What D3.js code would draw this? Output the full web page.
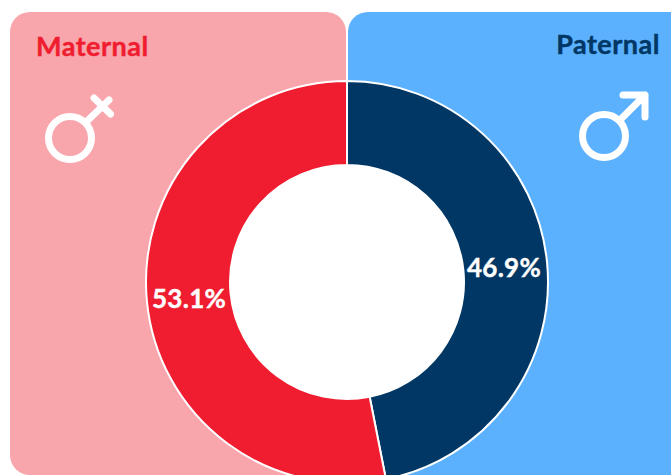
<!DOCTYPE html>
<html><head><meta charset="utf-8">
<script src="https://cdn.jsdelivr.net/npm/d3@7/dist/d3.min.js"></script>
<style>html,body{margin:0;padding:0;background:#fff;overflow:hidden}svg{display:block}text{font-family:Lato,"Open Sans",sans-serif;font-weight:700}</style>
</head><body><div id="c"></div>
<script>
const categories = ["Paternal", "Maternal"];
const values = [46.9, 53.1];
const labels = ["46.9%", "53.1%"];
const colors = ["#003764", "#EF1D2F"];
const W = 671, H = 475, cx = 347, cy = 282, R = 201, r = 117;
const svg = d3.select("#c").append("svg").attr("width", W).attr("height", H);
function panel(x0, x1, y0, y1, rad, fill){
  const p = d3.path();
  p.moveTo(x0 + rad, y0); p.lineTo(x1 - rad, y0);
  p.arcTo(x1, y0, x1, y0 + rad, rad); p.lineTo(x1, y1 - rad);
  p.arcTo(x1, y1, x1 - rad, y1, rad); p.lineTo(x0 + rad, y1);
  p.arcTo(x0, y1, x0, y1 - rad, rad); p.lineTo(x0, y0 + rad);
  p.arcTo(x0, y0, x0 + rad, y0, rad); p.closePath();
  svg.append("path").attr("d", p.toString()).attr("fill", fill);
}
panel(10, 346, 12, 475, 20, "#F8A5AC");
panel(348, 700, 12, 475, 20, "#5CB1FF");
svg.append("text").attr("x", 36).attr("y", 56).attr("font-size", 27).attr("letter-spacing", 0.5).attr("fill", "#EF1D2F").attr("stroke", "#EF1D2F").attr("stroke-width", 0.4).text(categories[1]);
svg.append("text").attr("x", 660).attr("y", 54).attr("text-anchor", "end").attr("font-size", 27).attr("letter-spacing", 0.5).attr("fill", "#003764").attr("stroke", "#003764").attr("stroke-width", 0.4).text(categories[0]);
const sym = svg.append("g").attr("fill", "none").attr("stroke", "#fff").attr("stroke-width", 7).attr("stroke-linecap", "round").attr("stroke-linejoin", "round");
sym.append("circle").attr("cx", 70).attr("cy", 138).attr("r", 21.5);
sym.append("path").attr("d", "M86 122L109 100M94 98L110.500 114");
sym.append("circle").attr("cx", 604).attr("cy", 136).attr("r", 21.5);
sym.append("path").attr("d", "M620 120L645 95M623 95H645V117");
const pie = d3.pie().sort(null)(values);
const arc = d3.arc().innerRadius(r).outerRadius(R);
const g = svg.append("g").attr("transform", `translate(${cx},${cy})`);
g.selectAll("path").data(pie).join("path").attr("d", arc).attr("fill", (d, i) => colors[i]).attr("stroke", "#fff").attr("stroke-width", 2);
g.append("circle").attr("r", r).attr("fill", "#fff");
g.selectAll("text").data(pie).join("text")
  .attr("x", (d, i) => i === 0 ? 157 : -158)
  .attr("y", (d, i) => i === 0 ? -5 : 26)
  .attr("text-anchor", "middle").attr("font-size", 26).attr("letter-spacing", 0.3).attr("fill", "#fff").attr("stroke", "#fff").attr("stroke-width", 0.4).text((d, i) => labels[i]);
</script></body></html>
